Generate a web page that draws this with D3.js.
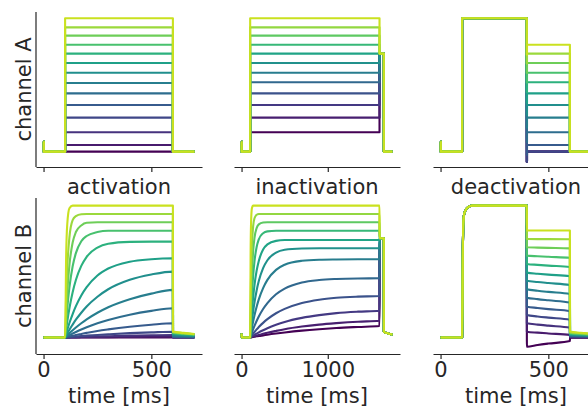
<!DOCTYPE html>
<html>
<head>
<meta charset="utf-8">
<script src="https://cdn.jsdelivr.net/npm/d3@7/dist/d3.min.js"></script>
<style>
  body { margin: 0; background: #fff; }
  text { font-family: 'DejaVu Sans', sans-serif; fill: #262626; }
</style>
</head>
<body>
<div id="chart"></div>
<script>
// ---- data ----
var protocols = ['activation', 'inactivation', 'deactivation'];
var channels = ['channel A', 'channel B'];
var xTicks = [[0, 500], [0, 1000], [0, 500]];
var xMax = [700, 1750, 700];

// channel A: instantaneous steps
var startSpikeA = 0.075;
var actTimesA = [0, 1, 100, 600, 700];
var actLevelsA = [0, 0.05, 0.145, 0.255, 0.35, 0.437, 0.515, 0.592, 0.665, 0.735, 0.802, 0.87, 0.932, 1.0];
var inactTimesA = [0, 1, 100, 1600, 1650, 1750];
var inactLevelsA = [0.145, 0.255, 0.35, 0.437, 0.52, 0.592, 0.665, 0.735, 0.802, 0.87, 0.932, 1.0];
var inactTestA = 0.735;
var deactTimesA = [0, 1, 100, 400, 401, 600, 700];
var deactLevelsA = [0, 0, 0, 0, 0.05, 0.145, 0.255, 0.35, 0.437, 0.52, 0.592, 0.665, 0.735, 0.802];
var deactDipA = -0.075;

// channel B: slow kinetics, one row of values per trace
var actTimesB = [0, 100, 105, 110, 120, 135, 150, 175, 200, 250, 300, 400, 500, 600, 600.5, 650, 700];
var actTracesB = [
  [0, 0, 0, 0, 0, 0, 0, 0, 0, 0, 0, 0, 0, 0, 0, 0, 0],
  [0, 0, 0, 0, 0, 0.001, 0.001, 0.0015, 0.002, 0.0025, 0.003, 0.0045, 0.0055, 0.006, 0, 0, 0],
  [0, 0, 0, 0.001, 0.001, 0.002, 0.003, 0.005, 0.006, 0.008, 0.010, 0.014, 0.017, 0.019, 0.001, 0.001, 0.0005],
  [0, 0, 0.001, 0.0015, 0.003, 0.005, 0.007, 0.011, 0.014, 0.019, 0.024, 0.033, 0.039, 0.044, 0.002, 0.0015, 0.001],
  [0, 0, 0.002, 0.004, 0.008, 0.013, 0.019, 0.027, 0.035, 0.05, 0.062, 0.082, 0.097, 0.108, 0.005, 0.004, 0.003],
  [0, 0, 0.005, 0.009, 0.018, 0.030, 0.042, 0.061, 0.078, 0.108, 0.133, 0.173, 0.202, 0.222, 0.010, 0.008, 0.006],
  [0, 0, 0.008, 0.016, 0.032, 0.055, 0.076, 0.108, 0.138, 0.188, 0.23, 0.291, 0.333, 0.361, 0.016, 0.013, 0.010],
  [0, 0, 0.015, 0.030, 0.059, 0.098, 0.135, 0.188, 0.235, 0.309, 0.366, 0.438, 0.478, 0.5, 0.023, 0.018, 0.014],
  [0, 0, 0.03, 0.058, 0.11, 0.178, 0.238, 0.319, 0.382, 0.47, 0.523, 0.575, 0.594, 0.601, 0.027, 0.021, 0.016],
  [0, 0, 0.063, 0.121, 0.222, 0.344, 0.436, 0.543, 0.612, 0.682, 0.711, 0.725, 0.727, 0.727, 0.033, 0.026, 0.020],
  [0, 0, 0.12, 0.22, 0.38, 0.54, 0.64, 0.73, 0.77, 0.80, 0.81, 0.81, 0.81, 0.81, 0.036, 0.028, 0.022],
  [0, 0, 0.19, 0.34, 0.55, 0.72, 0.80, 0.85, 0.87, 0.874, 0.874, 0.874, 0.874, 0.874, 0.039, 0.031, 0.024],
  [0, 0, 0.32, 0.53, 0.76, 0.89, 0.92, 0.935, 0.937, 0.937, 0.937, 0.937, 0.937, 0.937, 0.042, 0.033, 0.025],
  [0, 0, 0.63, 0.86, 0.98, 1, 1, 1, 1, 1, 1, 1, 1, 1, 0.045, 0.035, 0.027]
];

var inactTimesB = [0, 1, 100, 105, 110, 120, 135, 150, 175, 200, 250, 300, 400, 500, 700, 900, 1100, 1350, 1600,
  1600.5, 1650, 1650.5, 1700, 1750];
var inactTracesB = [
  [0.03, 0, 0, 0.0006, 0.001, 0.002, 0.004, 0.006, 0.009, 0.011, 0.016, 0.021, 0.030, 0.038, 0.052, 0.063, 0.072, 0.080, 0.087, 0.753, 0.753, 0.044, 0.031, 0.022],
  [0.03, 0, 0, 0.001, 0.002, 0.004, 0.007, 0.010, 0.015, 0.019, 0.028, 0.036, 0.050, 0.063, 0.083, 0.098, 0.109, 0.120, 0.127, 0.753, 0.753, 0.044, 0.031, 0.022],
  [0.03, 0, 0, 0.002, 0.004, 0.008, 0.014, 0.020, 0.030, 0.039, 0.055, 0.070, 0.096, 0.118, 0.149, 0.170, 0.185, 0.196, 0.203, 0.753, 0.753, 0.044, 0.031, 0.022],
  [0.03, 0, 0, 0.0045, 0.009, 0.0177, 0.030, 0.042, 0.062, 0.079, 0.111, 0.139, 0.184, 0.217, 0.262, 0.287, 0.301, 0.31, 0.315, 0.753, 0.753, 0.044, 0.031, 0.022],
  [0.03, 0, 0, 0.0097, 0.019, 0.037, 0.063, 0.088, 0.125, 0.159, 0.216, 0.261, 0.328, 0.371, 0.417, 0.436, 0.444, 0.448, 0.449, 0.753, 0.753, 0.044, 0.031, 0.022],
  [0.03, 0, 0, 0.019, 0.038, 0.074, 0.123, 0.168, 0.233, 0.289, 0.375, 0.437, 0.513, 0.552, 0.582, 0.590, 0.592, 0.593, 0.593, 0.753, 0.753, 0.044, 0.031, 0.022],
  [0.03, 0, 0, 0.033, 0.064, 0.123, 0.2, 0.266, 0.357, 0.428, 0.526, 0.586, 0.643, 0.665, 0.675, 0.677, 0.677, 0.677, 0.677, 0.753, 0.753, 0.044, 0.031, 0.022],
  [0.03, 0, 0, 0.055, 0.106, 0.196, 0.308, 0.397, 0.507, 0.581, 0.667, 0.706, 0.733, 0.739, 0.74, 0.74, 0.74, 0.74, 0.74, 0.753, 0.753, 0.044, 0.031, 0.022],
  [0.03, 0, 0, 0.095, 0.179, 0.319, 0.472, 0.578, 0.686, 0.744, 0.791, 0.805, 0.81, 0.81, 0.81, 0.81, 0.81, 0.81, 0.81, 0.753, 0.753, 0.044, 0.031, 0.022],
  [0.03, 0, 0, 0.158, 0.288, 0.482, 0.658, 0.756, 0.830, 0.858, 0.872, 0.874, 0.874, 0.874, 0.874, 0.874, 0.874, 0.874, 0.874, 0.753, 0.753, 0.044, 0.031, 0.022],
  [0.03, 0, 0, 0.265, 0.456, 0.69, 0.846, 0.904, 0.931, 0.937, 0.937, 0.937, 0.937, 0.937, 0.937, 0.937, 0.937, 0.937, 0.937, 0.753, 0.753, 0.044, 0.031, 0.022],
  [0.03, 0, 0, 0.63, 0.86, 0.98, 1, 1, 1, 1, 1, 1, 1, 1, 1, 1, 1, 1, 1, 0.753, 0.753, 0.044, 0.031, 0.022]
];

var deactTimesB = [0, 100, 103, 106, 110, 120, 130, 145, 400, 400.5, 450, 500, 600, 600.5, 650, 700];
var deactTracesB = [
  [0, 0, 0.6, 0.88, 0.94, 0.975, 0.99, 1, 1, -0.07, -0.057, -0.046, -0.027, -0.0015, -0.001, -0.001],
  [0, 0, 0.6, 0.88, 0.94, 0.975, 0.99, 1, 1, 0.044, 0.037, 0.031, 0.02, 0.001, 0.001, 0.001],
  [0, 0, 0.6, 0.88, 0.94, 0.975, 0.99, 1, 1, 0.108, 0.098, 0.09, 0.075, 0.004, 0.003, 0.003],
  [0, 0, 0.6, 0.88, 0.94, 0.975, 0.99, 1, 1, 0.171, 0.16, 0.151, 0.135, 0.007, 0.006, 0.005],
  [0, 0, 0.6, 0.88, 0.94, 0.975, 0.99, 1, 1, 0.234, 0.224, 0.215, 0.2, 0.011, 0.009, 0.007],
  [0, 0, 0.6, 0.88, 0.94, 0.975, 0.99, 1, 1, 0.302, 0.291, 0.282, 0.265, 0.015, 0.012, 0.009],
  [0, 0, 0.6, 0.88, 0.94, 0.975, 0.99, 1, 1, 0.366, 0.355, 0.346, 0.33, 0.018, 0.015, 0.012],
  [0, 0, 0.6, 0.88, 0.94, 0.975, 0.99, 1, 1, 0.431, 0.421, 0.413, 0.398, 0.022, 0.018, 0.014],
  [0, 0, 0.6, 0.88, 0.94, 0.975, 0.99, 1, 1, 0.492, 0.484, 0.477, 0.465, 0.026, 0.021, 0.017],
  [0, 0, 0.6, 0.88, 0.94, 0.975, 0.99, 1, 1, 0.558, 0.551, 0.545, 0.535, 0.029, 0.024, 0.019],
  [0, 0, 0.6, 0.88, 0.94, 0.975, 0.99, 1, 1, 0.621, 0.616, 0.612, 0.605, 0.033, 0.027, 0.022],
  [0, 0, 0.6, 0.88, 0.94, 0.975, 0.99, 1, 1, 0.684, 0.682, 0.680, 0.676, 0.037, 0.030, 0.024],
  [0, 0, 0.6, 0.88, 0.94, 0.975, 0.99, 1, 1, 0.747, 0.746, 0.746, 0.745, 0.041, 0.033, 0.027],
  [0, 0, 0.6, 0.88, 0.94, 0.975, 0.99, 1, 1, 0.811, 0.811, 0.811, 0.811, 0.045, 0.036, 0.029]
];

// ---- layout ----
var width = 588;
var height = 408;
var colX = [36, 234, 433];
var panelW = 166;
var rowY = [[12, 167], [198, 354]];
var yDomains = [[-0.115, 1.047], [-0.125, 1.058]];
var fontSize = 21;
var cmapEnd = 0.92;

// build the trace lists for each panel
var stepTraces = function (times, valueRows) {
  return valueRows.map(function (vals) {
    return vals.map(function (v, i) { return { t: times[i], v: v }; });
  });
};

var panelsA = [
  stepTraces(actTimesA, actLevelsA.map(function (L) { return [startSpikeA, 0, L, 0, 0]; })),
  stepTraces(inactTimesA, inactLevelsA.map(function (L) { return [startSpikeA, 0, L, inactTestA, 0, 0]; })),
  stepTraces(deactTimesA, deactLevelsA.map(function (L) { return [startSpikeA, 0, 1, L + deactDipA, L, 0, 0]; }))
];
var panelsB = [
  stepTraces(actTimesB, actTracesB),
  stepTraces(inactTimesB, inactTracesB),
  stepTraces(deactTimesB, deactTracesB)
];
var rows = [panelsA, panelsB];

var svg = d3.select('#chart')
  .append('svg')
  .attr('width', width)
  .attr('height', height);

rows.forEach(function (panels, r) {
  panels.forEach(function (traces, c) {
    var x_scale = d3.scaleLinear()
      .domain([-0.05 * xMax[c], 1.05 * xMax[c]])
      .range([colX[c], colX[c] + panelW]);
    var y_scale = d3.scaleLinear()
      .domain(yDomains[r])
      .range([rowY[r][1], rowY[r][0]]);

    var line = d3.line()
      .x(function (d) { return x_scale(d.t); })
      .y(function (d) { return y_scale(d.v); })
      .curve(r === 0 ? d3.curveStepAfter : d3.curveMonotoneX);

    var n = traces.length;
    svg.append('g')
      .selectAll('path')
      .data(traces)
      .enter()
      .append('path')
      .attr('fill', 'none')
      .attr('stroke', function (d, i) { return d3.interpolateViridis(cmapEnd * i / (n - 1)); })
      .attr('stroke-width', 2.1)
      .attr('stroke-linejoin', 'round')
      .attr('d', line);

    // bottom spine with ticks
    var x_axis = d3.axisBottom(x_scale)
      .tickValues(xTicks[c])
      .tickSize(5)
      .tickSizeOuter(0)
      .tickPadding(3)
      .tickFormat(d3.format('d'));
    if (r === 0) x_axis.tickFormat('');

    var gx = svg.append('g')
      .attr('transform', 'translate(0,' + rowY[r][1] + ')')
      .call(x_axis);
    gx.selectAll('path, line').attr('stroke', '#262626').attr('stroke-width', 1.2);
    gx.selectAll('text')
      .attr('font-size', fontSize)
      .attr('font-family', "'DejaVu Sans', sans-serif")
      .attr('fill', '#262626');

    // left spine only on the first column
    if (c === 0) {
      svg.append('line')
        .attr('x1', colX[c]).attr('x2', colX[c])
        .attr('y1', rowY[r][0]).attr('y2', rowY[r][1])
        .attr('stroke', '#262626')
        .attr('stroke-width', 1.2);
    }

    if (r === 1) {
      svg.append('text')
        .attr('x', colX[c] + panelW / 2)
        .attr('y', rowY[r][0] - 4)
        .attr('text-anchor', 'middle')
        .attr('font-size', fontSize)
        .text(protocols[c]);

      svg.append('text')
        .attr('x', colX[c] + panelW / 2)
        .attr('y', 403)
        .attr('text-anchor', 'middle')
        .attr('font-size', fontSize)
        .text('time [ms]');
    }
  });

  svg.append('text')
    .attr('transform', 'translate(31,' + (rowY[r][0] + rowY[r][1]) / 2 + ') rotate(-90)')
    .attr('text-anchor', 'middle')
    .attr('font-size', fontSize)
    .text(channels[r]);
});
</script>
</body>
</html>
